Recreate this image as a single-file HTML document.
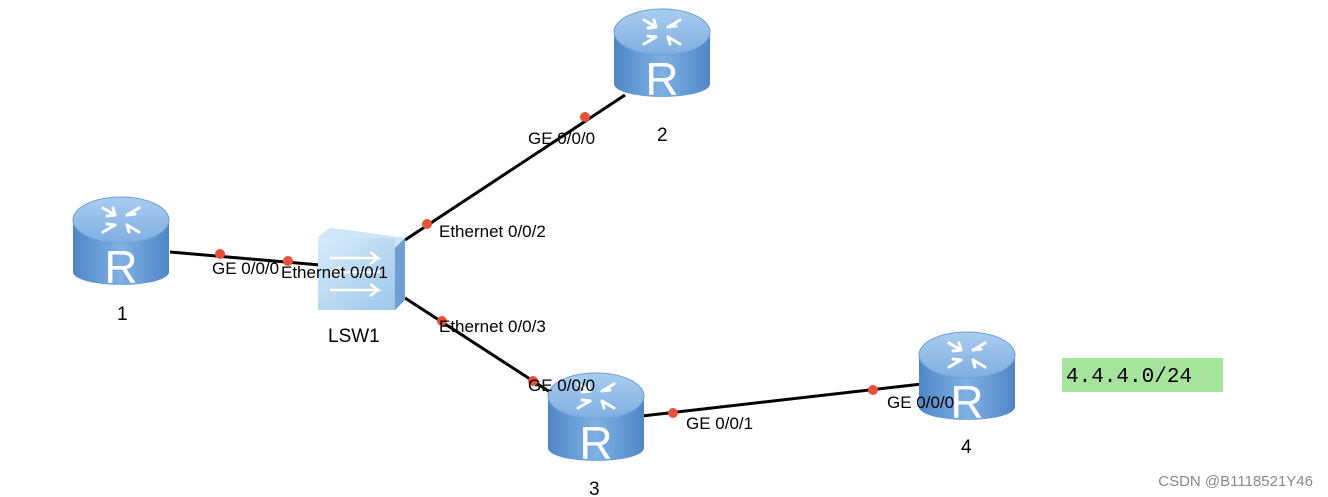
<!DOCTYPE html>
<html><head><meta charset="utf-8"><style>
html,body{margin:0;padding:0;background:#fff;}
svg{display:block;}
.t{font-family:"Liberation Sans",Arial,sans-serif;}
.m{font-family:"Liberation Mono",monospace;}
</style></head><body>
<svg width="1328" height="497" viewBox="0 0 1328 497" xmlns="http://www.w3.org/2000/svg">
<defs>
<linearGradient id="body" x1="0" x2="1" y1="0" y2="0">
<stop offset="0" stop-color="#4f86c6"/><stop offset="0.5" stop-color="#7fb0e4"/><stop offset="1" stop-color="#4f86c6"/>
</linearGradient>
<linearGradient id="top" x1="0" x2="0" y1="0" y2="1">
<stop offset="0" stop-color="#a9cdf0"/><stop offset="1" stop-color="#7faee0"/>
</linearGradient>
<g id="router">
<path d="M0,24 L0,76 A48,13 0 0 0 96,76 L96,24 Z" fill="url(#body)"/>
<ellipse cx="48" cy="24" rx="48" ry="23" fill="url(#top)" stroke="#6c9fd6" stroke-width="1"/>
<g stroke="#fff" stroke-width="3" fill="none" stroke-linecap="round">
<path d="M30,12 l12,7 M42,19 l-2,-7 M42,19 l-8,1"/>
<path d="M66,12 l-12,7 M54,19 l8,-1"/>
<path d="M30,36 l12,-7 M42,29 l-8,-1"/>
<path d="M66,36 l-12,-7 M54,29 l2,7"/>
</g>
<text class="t" x="48" y="87" font-size="46" fill="#fff" text-anchor="middle">R</text>
</g>
<linearGradient id="sw" x1="0" x2="1" y1="0" y2="1">
<stop offset="0" stop-color="#d8ebfa"/><stop offset="1" stop-color="#9cc7ec"/>
</linearGradient>
</defs>

<g stroke="#000" stroke-width="3">
<line x1="170" y1="252" x2="320" y2="265"/>
<line x1="405" y1="240" x2="625" y2="95"/>
<line x1="405" y1="298" x2="550" y2="392"/>
<line x1="642" y1="416" x2="922" y2="384"/>
</g>

<use href="#router" x="73" y="196"/>
<use href="#router" x="614" y="8"/>
<use href="#router" x="548" y="372"/>
<use href="#router" x="919" y="331"/>

<g>
<polygon points="318,238 330,228 405,238 405,300 395,310 318,300" fill="#8fbce6"/>
<polygon points="318,238 330,228 405,238 395,248" fill="#cfe5f8"/>
<polygon points="395,248 405,238 405,300 395,310" fill="#6d9fd2"/>
<rect x="318" y="238" width="77" height="72" fill="url(#sw)"/>
<g stroke="#fff" stroke-width="2.5" fill="none">
<path d="M330,258 h48 l-8,-6 M378,258 l-8,6"/>
<path d="M380,272 h-48 l8,-6 M332,272 l8,6"/>
<path d="M330,290 h48 l-8,-6 M378,290 l-8,6"/>
</g>
</g>

<g fill="#e8503c">
<circle cx="220" cy="254" r="5"/>
<circle cx="288" cy="261" r="5"/>
<circle cx="427" cy="224" r="5"/>
<circle cx="585" cy="117" r="5"/>
<circle cx="442" cy="321" r="5"/>
<circle cx="533" cy="381" r="5"/>
<circle cx="673" cy="413" r="5"/>
<circle cx="873" cy="390" r="5"/>
</g>

<g class="t" font-size="17" fill="#000">
<text x="528" y="144">GE 0/0/0</text>
<text x="657" y="141" font-size="19">2</text>
<text x="212" y="274">GE 0/0/0</text>
<text x="281" y="278">Ethernet 0/0/1</text>
<text x="439" y="237">Ethernet 0/0/2</text>
<text x="439" y="332">Ethernet 0/0/3</text>
<text x="117" y="320" font-size="19">1</text>
<text x="328" y="342" font-size="19">LSW1</text>
<text x="528" y="391">GE 0/0/0</text>
<text x="686" y="429">GE 0/0/1</text>
<text x="887" y="408">GE 0/0/0</text>
<text x="589" y="495" font-size="19">3</text>
<text x="961" y="453" font-size="19">4</text>
</g>

<rect x="1062" y="358" width="161" height="34" fill="#a6e39b"/>
<text class="m" x="1066" y="382" font-size="21" fill="#000">4.4.4.0/24</text>
<text class="t" x="1313" y="486" font-size="15" fill="#888" text-anchor="end">CSDN @B1118521Y46</text>
</svg>
</body></html>
